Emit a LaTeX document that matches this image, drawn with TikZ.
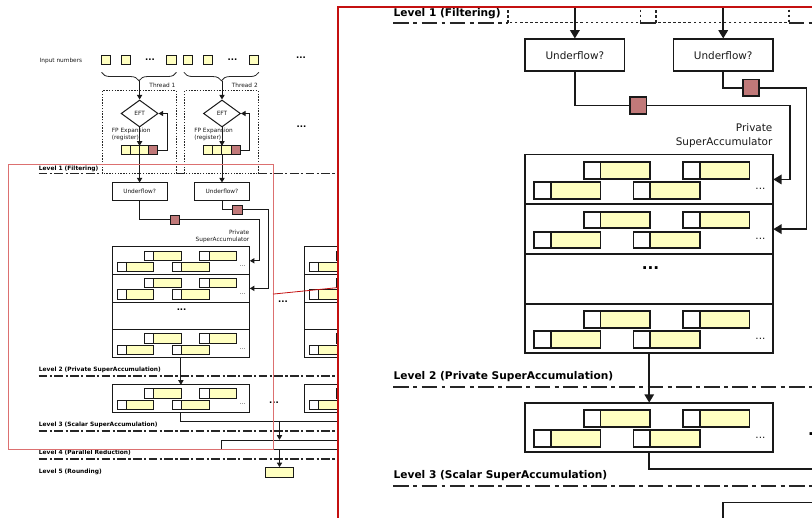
\documentclass[tikz,border=0pt]{standalone}
\usepackage{fontspec}
\setmainfont{DejaVu Sans}
\usetikzlibrary{shapes.geometric,arrows.meta,decorations.pathreplacing}
\definecolor{yel}{RGB}{255,255,192}
\definecolor{rcell}{RGB}{193,121,121}
\definecolor{spyred}{RGB}{196,16,16}
\newcommand{\cellpair}[2]{%
  \draw[cell,fill=white] ({#1},{#2}) rectangle ++(9.2,9.2);
  \draw[cell,fill=yel] ({#1+9.2},{#2}) rectangle ++(27.6,9.2);}
\newcommand{\accrow}[2]{%
  \cellpair{#1+5}{#2+15.3}%
  \cellpair{#1+32.6}{#2+4.2}%
  \cellpair{#1+60.2}{#2+15.3}%
  \cellpair{#1+87.8}{#2+4.2}%
  \node[txt] at ({#1+130.7},{#2+19.3}) {...};}
\tikzset{
  ln/.style={line width=1pt, draw=black!90},
  cell/.style={line width=1pt, draw=black!90},
  txt/.style={font=\fontsize{5.8}{7}\selectfont, inner sep=0pt, text=black!90},
  lvl/.style={font=\fontsize{5.9}{7}\selectfont\bfseries, inner sep=0pt, anchor=base west},
  bigdots/.style={font=\fontsize{8.5}{9}\selectfont\bfseries, inner sep=0pt},
  levelline/.style={line width=1.1pt, draw=black!85, dash pattern=on 8.7pt off 2.4pt on 2.2pt off 2.4pt},
  dotbox/.style={line width=0.9pt, draw=black!85, dash pattern=on 1.4pt off 1.4pt},
  arr/.style={ln, -{Triangle[width=5.2pt,length=4.6pt]}},
  eftnode/.style={diamond, ln, fill=white, minimum width=37pt, minimum height=27pt, aspect=1.37, txt, inner sep=0pt},
  ufbox/.style={rectangle, ln, fill=white, minimum width=55.2pt, minimum height=17.5pt, txt, inner sep=0pt},
  rowbox/.style={rectangle, ln, minimum width=137.8pt, minimum height=27.6pt, inner sep=0pt, outer sep=0pt},
  rsq/.style={rectangle, ln, fill=rcell, minimum size=9.2pt, inner sep=0pt},
  ysq/.style={rectangle, ln, fill=yel, minimum size=9.2pt, inner sep=0pt},
  bracestyle/.style={line width=0.8pt, draw=black!85, decorate, decoration={brace, amplitude=8.5pt}},
  zoomframe/.style={draw=spyred, line width=1.6pt},
  zoomsource/.style={draw=spyred!60, line width=1pt},
}
\newcommand{\flowdiagram}{%
% level lines
\draw[levelline] (38.7,173.7) -- (102.3,173.7);
\draw[levelline] (176,173.7) -- (184.7,173.7);
\draw[levelline] (258.4,173.7) -- (470,173.7);
\draw[levelline] (38.7,376) -- (470,376);
\draw[levelline] (38.7,431) -- (470,431);
\draw[levelline] (38.7,459) -- (470,459);
\node[lvl] (l1) at (38.7,170.1) {Level 1 (Filtering)};
\node[lvl] (l2) at (38.7,372) {Level 2 (Private SuperAccumulation)};
\node[lvl] (l3) at (38.7,427) {Level 3 (Scalar SuperAccumulation)};
\node[lvl] (l4) at (38.7,455) {Level 4 (Parallel Reduction)};
\node[lvl] (l5) at (38.7,473.3) {Level 5 (Rounding)};
\node[txt,anchor=base west] (inp) at (39.5,62.5) {Input numbers};
\foreach \i/\dx in {1/0,2/82.4}{
  \node[ysq] (in\i a) at (105.6+\dx,59.9) {};
  \node[ysq] (in\i b) at (125.6+\dx,59.9) {};
  \node[ysq] (in\i c) at (171.4+\dx,59.9) {};
  \node[bigdots] (in\i d) at (150+\dx,59.3) {...};
  \draw[bracestyle] (176.5+\dx,72.3) -- (101.5+\dx,72.3);
  \coordinate (br\i) at (139.6+\dx,81);
  \node[txt,anchor=base east] (th\i) at (175.5+\dx,87.3) {Thread \i};
  \draw[dotbox] (102.3+\dx,173.7) -- (102.3+\dx,90.7) -- (176+\dx,90.7) -- (176+\dx,173.7) -- cycle;
  \node[eftnode] (eft\i) at (139.6+\dx,113.5) {EFT};
  \draw[arr] (br\i) -- (eft\i.north);
  \node[txt,anchor=base west] (fpa\i) at (111.7+\dx,132.8) {FP Expansion};
  \node[txt,anchor=base west] (fpb\i) at (111.7+\dx,139.8) {(register)};
  \node[ysq] (rg\i a) at (125.6+\dx,150.4) {};
  \node[ysq] (rg\i b) at (134.8+\dx,150.4) {};
  \node[ysq] (rg\i c) at (144+\dx,150.4) {};
  \node[rsq] (rg\i d) at (153.2+\dx,150.4) {};
  \coordinate (rt\i) at (139.6+\dx,145.8);
  \coordinate (rb\i) at (139.6+\dx,155);
  \draw[arr] (eft\i.south) -- (rt\i);
  \draw[arr] (rg\i d.east) -- ++(8.9,0) |- (eft\i.east);
  \node[ufbox] (uf\i) at (139.6+\dx,191.75) {Underflow?};
  \draw[arr] (rb\i) -- (uf\i.north);
}
\node[bigdots] (d1) at (301,57.3) {...};
\node[bigdots] (d2) at (301.5,126.6) {...};
\foreach \g/\x in {1/112,2/304.3}{
  \node[rowbox] (g\g r1) at (\x+68.9,260.8) {};
  \node[rowbox] (g\g r2) at (\x+68.9,288.4) {};
  \node[rowbox] (g\g r3) at (\x+68.9,316) {};
  \node[rowbox] (g\g r4) at (\x+68.9,343.6) {};
  \accrow{\x}{247}
  \accrow{\x}{274.6}
  \accrow{\x}{329.8}
  \node[bigdots] (g\g dd) at (\x+69.6,310.1) {...};
  \node[rowbox, minimum height=27.5pt] (sc\g) at (\x+68.9,398.55) {};
  \accrow{\x}{384.8}
  \draw[arr] (g\g r4.south) -- (sc\g.north);
}
\node[txt,anchor=base east] (pa1) at (249.5,234.4) {Private};
\node[txt,anchor=base east] (pa2) at (249.5,241.8) {SuperAccumulator};
\node[bigdots] (d3) at (283,301.3) {...};
\node[bigdots] (d4) at (274,402.3) {...};
\node[rsq] (rs1) at (174.8,219.7) {};
\draw[ln] (uf1.south) |- (rs1.west);
\draw[arr] (rs1.east) -- (259,219.7) |- (g1r1.east);
\node[rsq] (rs2) at (237.5,209.9) {};
\draw[ln] (uf2.south) |- (rs2.west);
\draw[arr] (rs2.east) -- (268.3,209.9) |- (g1r2.east);
\coordinate (jn) at (279.5,421.6);
\draw[ln] (sc1.south) |- (jn) -| (sc2.south);
\node[rectangle, ln, fill=white, minimum width=115.2pt, minimum height=9.7pt, inner sep=0pt] (par) at (279.5,445.15) {};
\draw[arr] (jn) -- (par.north);
\node[ysq, minimum width=28pt, minimum height=9.6pt] (rnd) at (279.5,472.5) {};
\draw[arr] (par.south) -- (rnd.north);
}
\begin{document}
\begin{tikzpicture}[x=1pt,y=-1pt]
\useasboundingbox (0,0) rectangle (812,518);
\flowdiagram
% zoomed inset
\coordinate (zin1) at (338,7);
\coordinate (zin2) at (815,520);
\fill[white] (zin1) rectangle (zin2);
\begin{scope}
  \clip (zin1) rectangle (zin2);
  \begin{scope}[transform canvas={shift={(323.6pt,290pt)},scale=1.8}]
    \flowdiagram
  \end{scope}
\end{scope}
\draw[zoomframe] (zin1) rectangle (zin2);
\coordinate (zsrc1) at (8,165);
\coordinate (zsrc2) at (273,450);
\draw[zoomsource] (zsrc1) rectangle (zsrc2);
\coordinate (zc1) at (273,294.1);
\coordinate (zc2) at (338,287.6);
\draw[spyred, line width=0.8pt] (zc1) -- (zc2);
\end{tikzpicture}
\end{document}
